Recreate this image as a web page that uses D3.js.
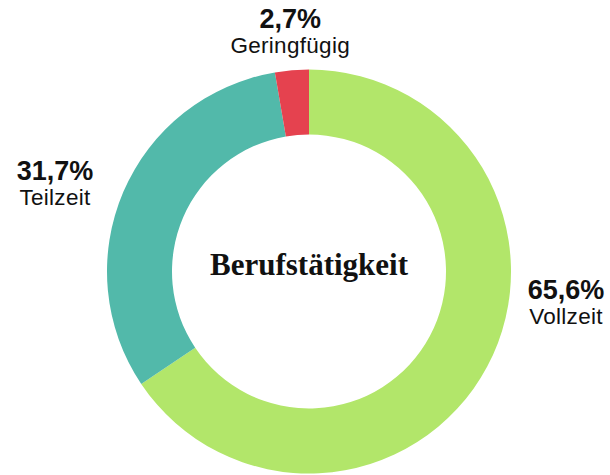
<!DOCTYPE html>
<html><head><meta charset="utf-8">
<script src="https://cdn.jsdelivr.net/npm/d3@7"></script>
<style>body{margin:0;background:#fff}</style>
</head><body>
<svg id="c" width="610" height="475"></svg>
<script>
const categories = ["Vollzeit", "Teilzeit", "Geringfügig"];
const values = [65.6, 31.7, 2.7];
const valueLabels = ["65,6%", "31,7%", "2,7%"];
const colors = ["#b2e66a", "#52b9aa", "#e5424f"];
const title = "Berufstätigkeit";

const svg = d3.select("#c");
const cx = 309, cy = 271.5, outerR = 202, innerR = 137;
const g = svg.append("g").attr("transform", `translate(${cx},${cy})`);
const pie = d3.pie().sort(null).value(d => d)(values);
const arc = d3.arc().innerRadius(innerR).outerRadius(outerR);
g.selectAll("path").data(pie).enter().append("path")
  .attr("d", arc).attr("fill", (d, i) => colors[i]);

// label placement: position along each slice's mid-angle, then pushed outward horizontally
const labelArc = d3.arc().innerRadius(outerR + 20).outerRadius(outerR + 20);
const labelOffsets = [[0, -77], [0, -4], [0, -22]];
pie.forEach((d, i) => {
  const c = labelArc.centroid(d);
  const x = (i === 0 ? outerR + 55 : i === 1 ? -(outerR + 52) : c[0]) + labelOffsets[i][0];
  const y = c[1] + labelOffsets[i][1];
  const t = g.append("text").attr("text-anchor", "middle")
    .attr("font-family", "Liberation Sans, Arial, sans-serif").attr("fill", "#111");
  t.append("tspan").attr("x", x).attr("y", y)
    .attr("font-size", 27).attr("font-weight", "bold").text(valueLabels[i]);
  t.append("tspan").attr("x", x).attr("y", y + 25)
    .attr("font-size", 22.5).attr("letter-spacing", 0.3).text(categories[i]);
});
g.append("text").attr("text-anchor", "middle").attr("y", 3.5)
  .attr("font-family", "Liberation Serif, Times New Roman, serif")
  .attr("font-weight", "bold").attr("font-size", 31).attr("fill", "#111")
  .text(title);
</script>
</body></html>
